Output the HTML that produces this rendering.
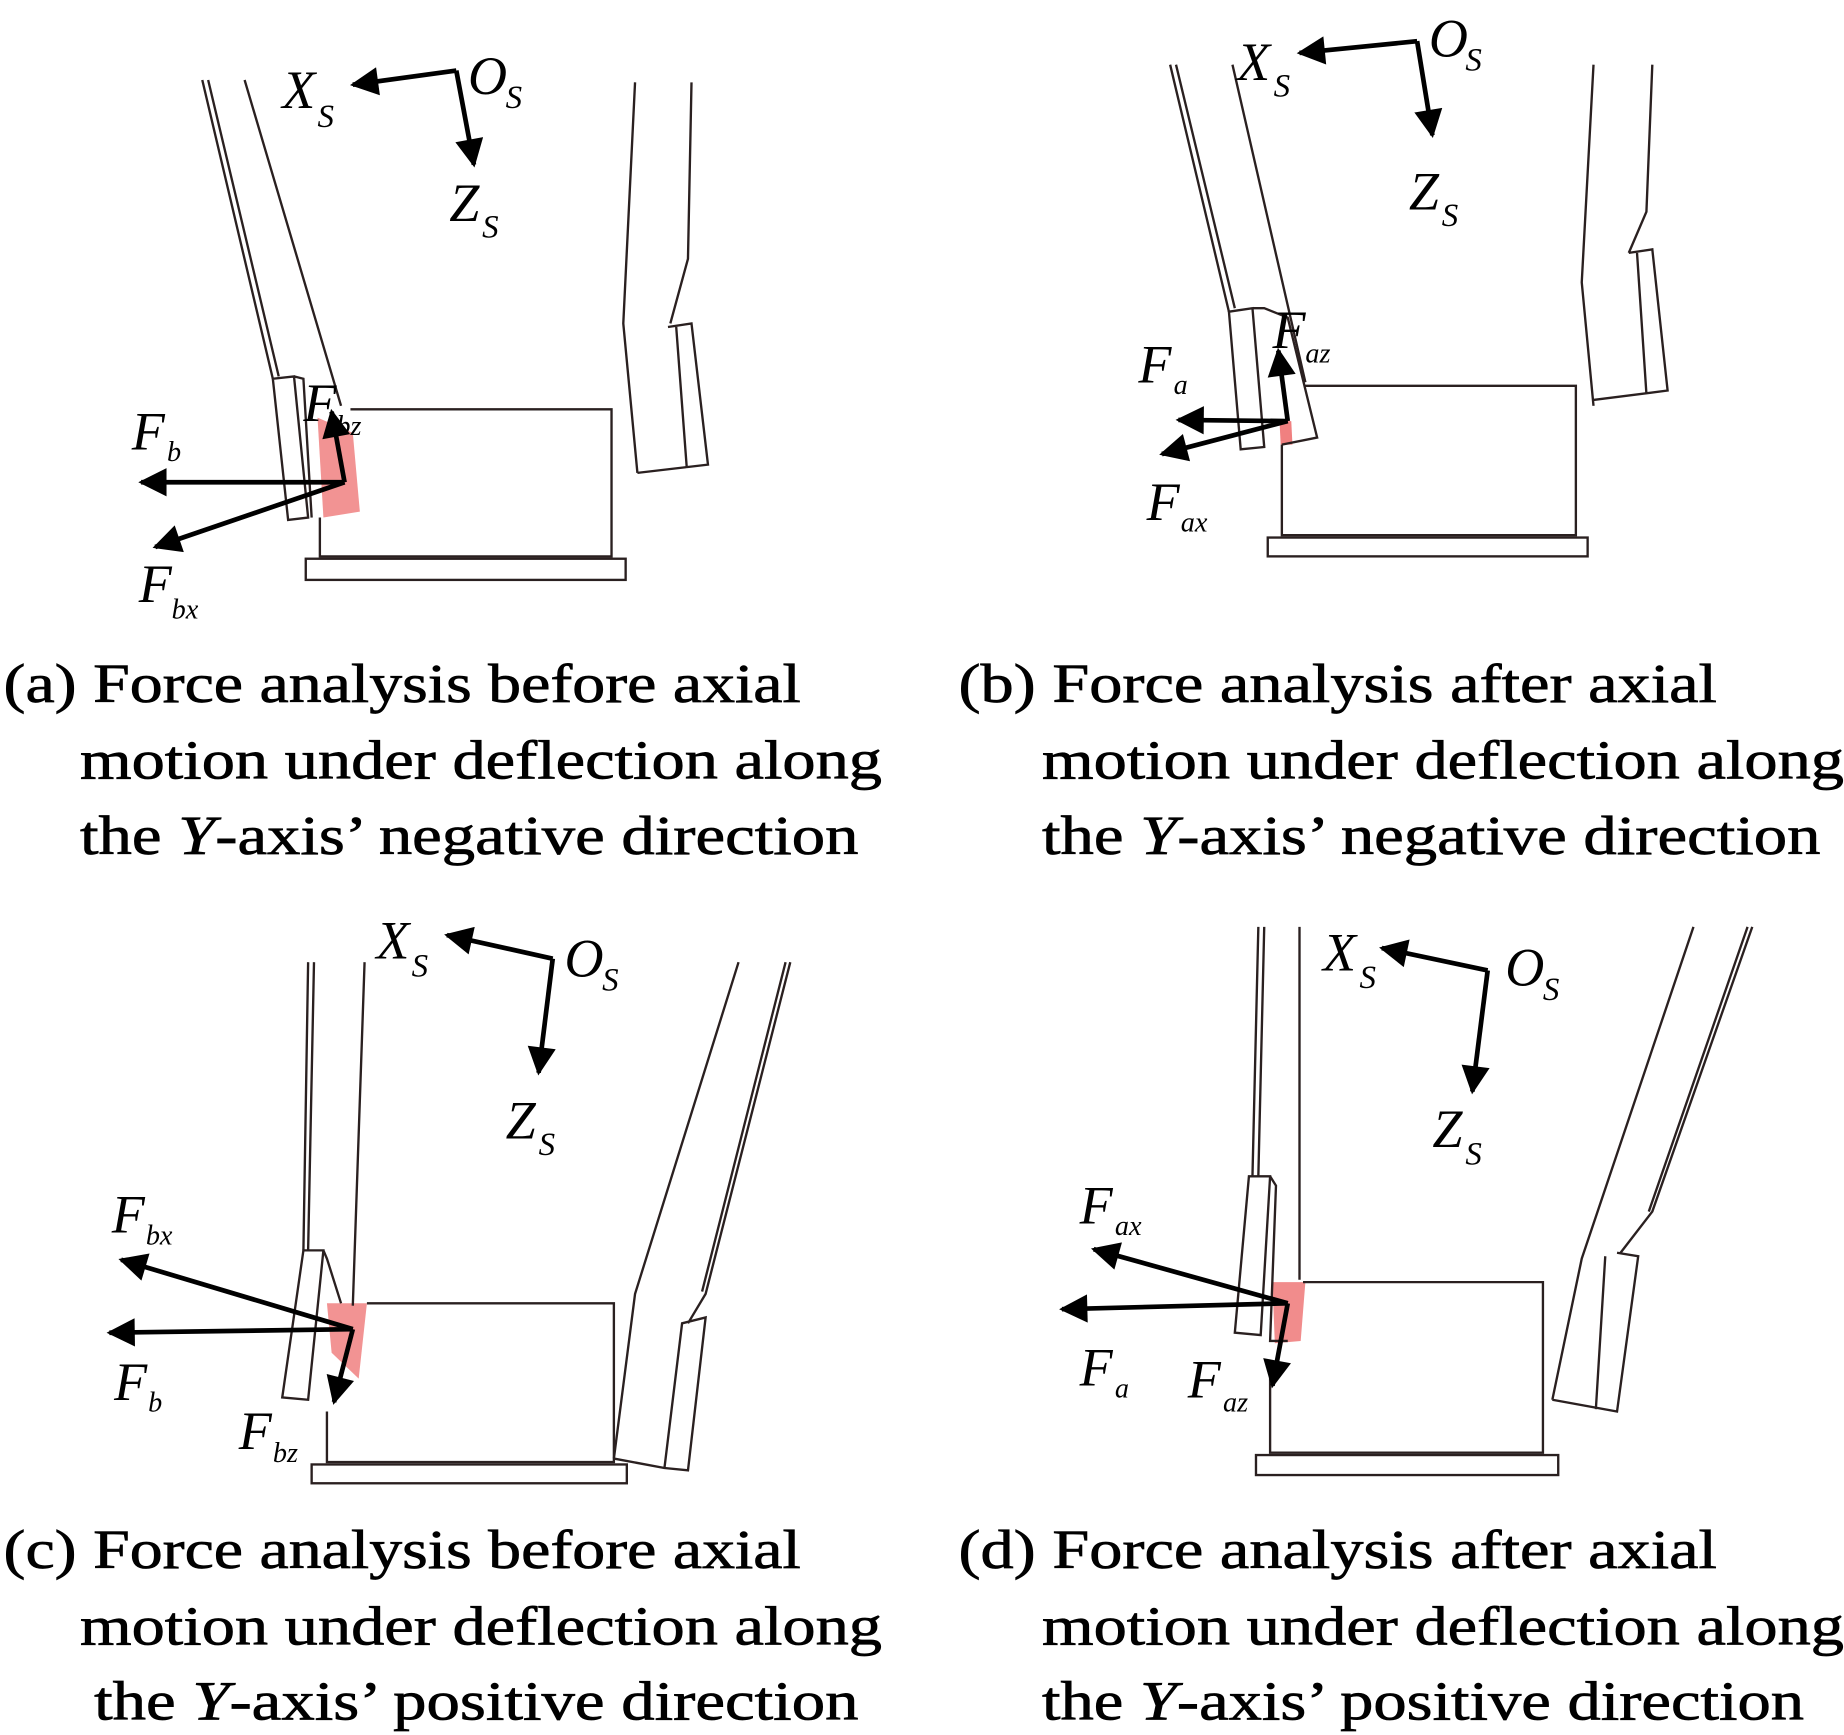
<!DOCTYPE html>
<html><head><meta charset="utf-8"><style>
html,body{margin:0;padding:0;background:#fff;}
svg{display:block;}
.l{fill:none;stroke:#2a2020;stroke-width:2;}
.a{stroke:#000;stroke-width:4;fill:none;}
.t{font-family:"Liberation Serif",serif;font-style:italic;fill:#000;}
.c{font-family:"Liberation Serif",serif;fill:#000;font-size:47px;stroke:#000;stroke-width:0.6;}
</style></head><body>
<svg width="1844" height="1735" viewBox="0 0 1568 1475" preserveAspectRatio="none" xmlns="http://www.w3.org/2000/svg">
<defs><marker id="h" viewBox="0 0 10 10" refX="9" refY="5" markerWidth="6.5" markerHeight="6" orient="auto" markerUnits="strokeWidth"><path d="M0,0 L10,5 L0,10 z" fill="#000"/></marker></defs>

<!-- Panel a -->
<g>
<polygon points="270,355 300,368 306,435 275,440" fill="#f08080" opacity="0.85"/>
<path class="l" d="M172,68 L232,322 M177,68 L237,320 M208,68 L290,345"/>
<path class="l" d="M232,322 L250,320 L262,440 L245,442 Z M250,320 L258,322 L265,440"/>
<path class="l" d="M272,440 L272,473 L520,473 L520,348 L298,348"/>
<rect class="l" x="260" y="475" width="272" height="18"/>
<path class="l" d="M540,70 L530,275 L542,402 M588,70 L585,220 L570,275 M568,278 L588,275 L602,395 L542,402 M575,278 L584,398"/>
<path class="a" d="M388,60 L300,72" marker-end="url(#h)"/>
<path class="a" d="M388,60 L403,140" marker-end="url(#h)"/>
<path class="a" d="M293,410 L120,410" marker-end="url(#h)"/>
<path class="a" d="M293,410 L132,465" marker-end="url(#h)"/>
<path class="a" d="M293,410 L282,350" marker-end="url(#h)"/>
<text class="t" x="398" y="80" font-size="46">O</text><text class="t" x="430" y="92" font-size="28">S</text>
<text class="t" x="240" y="92" font-size="46">X</text><text class="t" x="270" y="108" font-size="28">S</text>
<text class="t" x="382" y="188" font-size="46">Z</text><text class="t" x="410" y="202" font-size="28">S</text>
<text class="t" x="112" y="382" font-size="46">F</text><text class="t" x="142" y="392" font-size="24">b</text>
<text class="t" x="118" y="512" font-size="46">F</text><text class="t" x="146" y="526" font-size="24">bx</text>
<text class="t" x="258" y="358" font-size="46">F</text><text class="t" x="286" y="370" font-size="24">bz</text>
</g>

<!-- Panel b -->
<g>
<polygon points="1088,358 1098,358 1099,378 1089,378" fill="#f08080"/>
<path class="l" d="M995,55 L1045,265 M1000,55 L1050,262 M1048,55 L1110,325"/>
<path class="l" d="M1045,265 L1065,262 L1075,380 L1055,382 Z M1065,262 L1075,262 L1095,270 L1120,372 L1090,378"/>
<path class="l" d="M1090,378 L1090,455 L1340,455 L1340,328 L1110,328"/>
<rect class="l" x="1078" y="457" width="272" height="16"/>
<path class="l" d="M1355,55 L1345,240 L1355,345 M1405,55 L1400,180 L1385,215 M1385,215 L1405,212 L1418,332 L1355,340 M1392,215 L1400,335"/>
<path class="a" d="M1205,35 L1105,45" marker-end="url(#h)"/>
<path class="a" d="M1205,35 L1218,115" marker-end="url(#h)"/>
<path class="a" d="M1095,358 L1002,357" marker-end="url(#h)"/>
<path class="a" d="M1095,358 L988,386" marker-end="url(#h)"/>
<path class="a" d="M1095,358 L1087,298" marker-end="url(#h)"/>
<text class="t" x="1215" y="48" font-size="46">O</text><text class="t" x="1246" y="60" font-size="28">S</text>
<text class="t" x="1052" y="68" font-size="46">X</text><text class="t" x="1083" y="82" font-size="28">S</text>
<text class="t" x="1198" y="178" font-size="46">Z</text><text class="t" x="1226" y="192" font-size="28">S</text>
<text class="t" x="968" y="325" font-size="46">F</text><text class="t" x="998" y="335" font-size="24">a</text>
<text class="t" x="1082" y="296" font-size="46">F</text><text class="t" x="1110" y="308" font-size="24">az</text>
<text class="t" x="975" y="442" font-size="46">F</text><text class="t" x="1004" y="452" font-size="24">ax</text>
</g>

<!-- Panel c -->
<g>
<polygon points="278,1108 312,1108 305,1172 282,1150" fill="#f08080" opacity="0.85"/>
<path class="l" d="M262,818 L258,1063 M267,818 L262,1063 M310,818 L300,1110"/>
<path class="l" d="M258,1063 L275,1063 L262,1190 L240,1188 Z M275,1063 L278,1070 L290,1108"/>
<path class="l" d="M278,1200 L278,1243 L522,1243 L522,1108 L312,1108"/>
<rect class="l" x="265" y="1245" width="268" height="16"/>
<path class="l" d="M628,818 L540,1100 L522,1240 M672,818 L600,1100 L585,1125 M668,818 L597,1098 M580,1125 L600,1120 L585,1250 L565,1248 Z M522,1240 L565,1248"/>
<path class="a" d="M470,815 L380,795" marker-end="url(#h)"/>
<path class="a" d="M470,815 L458,912" marker-end="url(#h)"/>
<path class="a" d="M300,1130 L103,1071" marker-end="url(#h)"/>
<path class="a" d="M300,1130 L93,1133" marker-end="url(#h)"/>
<path class="a" d="M300,1130 L284,1192" marker-end="url(#h)"/>
<text class="t" x="480" y="830" font-size="46">O</text><text class="t" x="512" y="842" font-size="28">S</text>
<text class="t" x="320" y="815" font-size="46">X</text><text class="t" x="350" y="830" font-size="28">S</text>
<text class="t" x="430" y="968" font-size="46">Z</text><text class="t" x="458" y="982" font-size="28">S</text>
<text class="t" x="95" y="1048" font-size="46">F</text><text class="t" x="124" y="1058" font-size="24">bx</text>
<text class="t" x="97" y="1190" font-size="46">F</text><text class="t" x="126" y="1200" font-size="24">b</text>
<text class="t" x="203" y="1232" font-size="46">F</text><text class="t" x="232" y="1243" font-size="24">bz</text>
</g>

<!-- Panel d -->
<g>
<polygon points="1082,1090 1110,1090 1106,1140 1084,1142" fill="#f08080" opacity="0.9"/>
<path class="l" d="M1070,788 L1065,1000 M1075,788 L1070,1000 M1105,788 L1105,1088"/>
<path class="l" d="M1062,1000 L1080,1000 L1072,1135 L1050,1133 Z M1080,1000 L1085,1008 L1080,1140 L1095,1140"/>
<path class="l" d="M1080,1160 L1080,1235 L1312,1235 L1312,1090 L1108,1090"/>
<rect class="l" x="1068" y="1237" width="257" height="17"/>
<path class="l" d="M1440,788 L1345,1070 L1320,1190 M1490,788 L1405,1030 L1378,1065 M1486,788 L1402,1030 M1375,1065 L1393,1068 L1375,1200 L1320,1190 M1365,1068 L1357,1198"/>
<path class="a" d="M1265,825 L1175,806" marker-end="url(#h)"/>
<path class="a" d="M1265,825 L1252,928" marker-end="url(#h)"/>
<path class="a" d="M1095,1108 L930,1062" marker-end="url(#h)"/>
<path class="a" d="M1095,1108 L903,1113" marker-end="url(#h)"/>
<path class="a" d="M1095,1108 L1082,1178" marker-end="url(#h)"/>
<text class="t" x="1280" y="838" font-size="46">O</text><text class="t" x="1312" y="850" font-size="28">S</text>
<text class="t" x="1125" y="825" font-size="46">X</text><text class="t" x="1156" y="840" font-size="28">S</text>
<text class="t" x="1218" y="975" font-size="46">Z</text><text class="t" x="1246" y="990" font-size="28">S</text>
<text class="t" x="918" y="1040" font-size="46">F</text><text class="t" x="948" y="1050" font-size="24">ax</text>
<text class="t" x="918" y="1178" font-size="46">F</text><text class="t" x="948" y="1188" font-size="24">a</text>
<text class="t" x="1010" y="1188" font-size="46">F</text><text class="t" x="1040" y="1200" font-size="24">az</text>
</g>

<!-- captions -->
<text class="c" x="3" y="597" textLength="678" lengthAdjust="spacingAndGlyphs">(a) Force analysis before axial</text>
<text class="c" x="68" y="662" textLength="682" lengthAdjust="spacingAndGlyphs">motion under deflection along</text>
<text class="c" x="68" y="726" textLength="662" lengthAdjust="spacingAndGlyphs">the <tspan font-style="italic">Y</tspan>-axis’ negative direction</text>

<text class="c" x="815" y="597" textLength="645" lengthAdjust="spacingAndGlyphs">(b) Force analysis after axial</text>
<text class="c" x="886" y="662" textLength="682" lengthAdjust="spacingAndGlyphs">motion under deflection along</text>
<text class="c" x="886" y="726" textLength="662" lengthAdjust="spacingAndGlyphs">the <tspan font-style="italic">Y</tspan>-axis’ negative direction</text>

<text class="c" x="3" y="1333" textLength="678" lengthAdjust="spacingAndGlyphs">(c) Force analysis before axial</text>
<text class="c" x="68" y="1398" textLength="682" lengthAdjust="spacingAndGlyphs">motion under deflection along</text>
<text class="c" x="80" y="1462" textLength="650" lengthAdjust="spacingAndGlyphs">the <tspan font-style="italic">Y</tspan>-axis’ positive direction</text>

<text class="c" x="815" y="1333" textLength="645" lengthAdjust="spacingAndGlyphs">(d) Force analysis after axial</text>
<text class="c" x="886" y="1398" textLength="682" lengthAdjust="spacingAndGlyphs">motion under deflection along</text>
<text class="c" x="886" y="1462" textLength="648" lengthAdjust="spacingAndGlyphs">the <tspan font-style="italic">Y</tspan>-axis’ positive direction</text>
</svg>
</body></html>
